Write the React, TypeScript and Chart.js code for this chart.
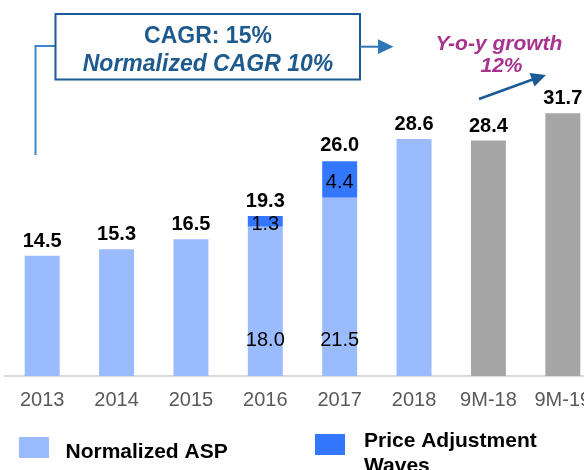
import React, { useEffect, useRef } from "react";
import { Chart, registerables } from "chart.js";

Chart.register(...registerables);

const categories = ["2013", "2014", "2015", "2016", "2017", "2018", "9M-18", "9M-19"];
const normalizedAsp = [14.5, 15.3, 16.5, 18.0, 21.5, 28.6, null, null];
const priceAdjustment = [null, null, null, 1.3, 4.4, null, null, null];
const nineMonths = [null, null, null, null, null, null, 28.4, 31.7];
const totals = [14.5, 15.3, 16.5, 19.3, 26.0, 28.6, 28.4, 31.7];

const legendLabels = ["Normalized ASP", "Price Adjustment", "Waves"];
const cagrLines = ["CAGR: 15%", "Normalized CAGR 10%"];
const yoyLines = ["Y-o-y growth", "12%"];

const LIGHT = "#9BBBFF";
const DARK = "#3377FF";
const GRAY = "#A6A6A6";
const FONT = "'Liberation Sans', Arial, sans-serif";

const labelPlugin = {
  id: "customLabels",
  afterDatasetsDraw(chart: any) {
    const ctx = chart.ctx;
    const xs = chart.scales.x;
    const ys = chart.scales.y;
    ctx.save();
    ctx.textAlign = "center";
    ctx.fillStyle = "#000";
    ctx.font = `bold 20px ${FONT}`;
    ctx.textBaseline = "alphabetic";
    totals.forEach((t, i) => {
      const x = xs.getPixelForValue(i);
      const y = ys.getPixelForValue(t);
      ctx.fillText(t.toFixed(1), x, y - 9);
    });
    ctx.font = `20px ${FONT}`;
    ctx.textBaseline = "middle";
    priceAdjustment.forEach((p, i) => {
      if (p == null) return;
      const base = normalizedAsp[i] as number;
      const x = xs.getPixelForValue(i);
      const y0 = ys.getPixelForValue(0);
      ctx.fillText(base.toFixed(1), x, y0 - 36);
      const yA = ys.getPixelForValue(base);
      const yB = ys.getPixelForValue(base + p);
      ctx.fillText(p.toFixed(1), x, (yA + yB) / 2 + 3);
    });
    ctx.restore();
  },
  afterDraw(chart: any) {
    const ctx = chart.ctx;
    ctx.save();
    ctx.strokeStyle = "#3D85C6";
    ctx.lineWidth = 2;
    ctx.beginPath();
    ctx.moveTo(35.5, 155);
    ctx.lineTo(35.5, 46);
    ctx.lineTo(55, 46);
    ctx.stroke();
    ctx.fillStyle = "#fff";
    ctx.fillRect(55.5, 14, 304.5, 65.5);
    ctx.strokeStyle = "#1A5A96";
    ctx.lineWidth = 2;
    ctx.strokeRect(55.5, 14, 304.5, 65.5);
    ctx.fillStyle = "#1F5A8E";
    ctx.textAlign = "center";
    ctx.textBaseline = "alphabetic";
    ctx.font = `bold 23px ${FONT}`;
    ctx.fillText(cagrLines[0], 208, 42.5);
    ctx.font = `italic bold 23px ${FONT}`;
    ctx.fillText(cagrLines[1], 208, 71);
    ctx.strokeStyle = "#2E75B6";
    ctx.fillStyle = "#2E75B6";
    ctx.lineWidth = 2;
    ctx.beginPath();
    ctx.moveTo(360, 46.7);
    ctx.lineTo(379, 46.7);
    ctx.stroke();
    ctx.beginPath();
    ctx.moveTo(378, 39.3);
    ctx.lineTo(393.5, 46.7);
    ctx.lineTo(378, 54);
    ctx.closePath();
    ctx.fill();
    ctx.fillStyle = "#A8338F";
    ctx.font = `italic bold 21px ${FONT}`;
    ctx.fillText(yoyLines[0], 499, 49.5);
    ctx.fillText(yoyLines[1], 501.5, 72);
    ctx.strokeStyle = "#1A5A96";
    ctx.fillStyle = "#1A5A96";
    ctx.lineWidth = 2.5;
    ctx.beginPath();
    ctx.moveTo(479, 99);
    ctx.lineTo(534, 79);
    ctx.stroke();
    ctx.beginPath();
    ctx.moveTo(546, 75);
    ctx.lineTo(529.5, 73);
    ctx.lineTo(534.5, 86.5);
    ctx.closePath();
    ctx.fill();
    ctx.fillStyle = LIGHT;
    ctx.fillRect(19, 437, 30, 21);
    ctx.fillStyle = DARK;
    ctx.fillRect(315, 434, 30, 21);
    ctx.fillStyle = "#000";
    ctx.textAlign = "left";
    ctx.font = `bold 21px ${FONT}`;
    ctx.fillText(legendLabels[0], 65.5, 457.7);
    ctx.fillText(legendLabels[1], 364, 447.3);
    ctx.fillText(legendLabels[2], 364, 471.5);
    ctx.restore();
  },
};

export default function App() {
  const ref = useRef<HTMLCanvasElement>(null);
  useEffect(() => {
    if (!ref.current) return;
    const chart = new Chart(ref.current, {
      type: "bar",
      data: {
        labels: categories,
        datasets: [
          { label: "Normalized ASP", data: normalizedAsp as any, backgroundColor: LIGHT },
          { label: "Price Adjustment Waves", data: priceAdjustment as any, backgroundColor: DARK },
          { label: "9M", data: nineMonths as any, backgroundColor: GRAY },
        ],
      },
      options: {
        responsive: false,
        animation: false,
        devicePixelRatio: 1,
        layout: { padding: { left: 5, right: 10, top: 3, bottom: 46 } },
        datasets: { bar: { barPercentage: 0.47, categoryPercentage: 1.0 } } as any,
        plugins: { legend: { display: false }, tooltip: { enabled: false } },
        scales: {
          x: {
            stacked: true,
            grid: { display: false, drawTicks: false },
            border: { display: true, color: "#D9D9D9", width: 2 },
            ticks: { color: "#595959", font: { family: FONT, size: 20 }, padding: 12, maxRotation: 0, autoSkip: false },
          },
          y: { stacked: true, display: false, min: 0, max: 45 },
        },
      },
      plugins: [labelPlugin],
    });
    return () => chart.destroy();
  }, []);
  return (
    <div style={{ position: "fixed", left: 0, top: 0, width: 584, height: 470, overflow: "hidden", background: "#fff" }}>
      <canvas ref={ref} width={610} height={470} style={{ display: "block" }} />
    </div>
  );
}
